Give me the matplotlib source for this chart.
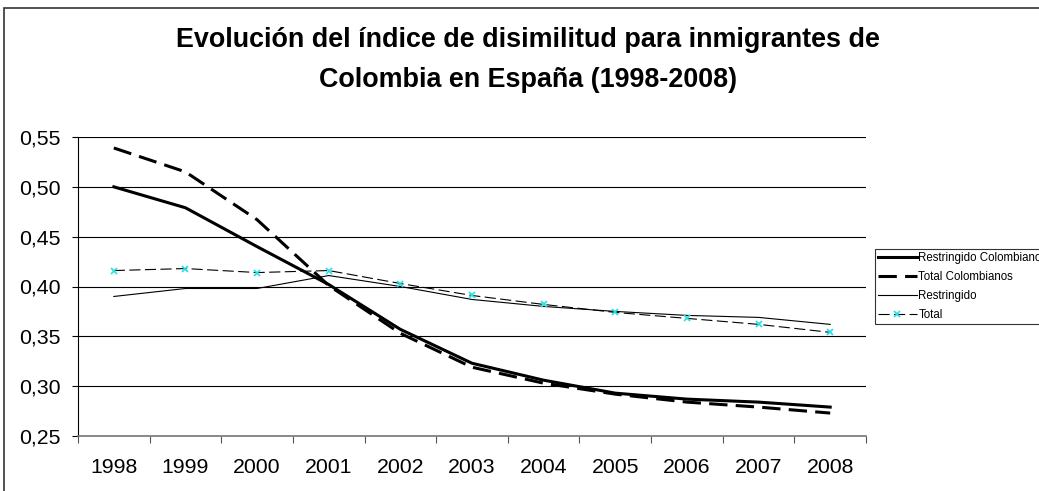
import numpy as np
import matplotlib.pyplot as plt
from matplotlib.patches import Rectangle
from matplotlib.ticker import FuncFormatter

plt.rcParams['font.family'] = ['Liberation Sans', 'DejaVu Sans']

years = ['1998', '1999', '2000', '2001', '2002', '2003', '2004', '2005', '2006', '2007', '2008']
restringido_col = [0.500, 0.479, 0.440, 0.402, 0.357, 0.323, 0.306, 0.293, 0.287, 0.284, 0.279]
total_col = [0.539, 0.515, 0.467, 0.401, 0.353, 0.319, 0.303, 0.292, 0.284, 0.279, 0.273]
restringido = [0.390, 0.398, 0.398, 0.411, 0.400, 0.387, 0.380, 0.375, 0.371, 0.369, 0.362]
total = [0.416, 0.418, 0.414, 0.416, 0.403, 0.391, 0.382, 0.374, 0.368, 0.362, 0.354]

W, H = 1039, 491
fig = plt.figure(figsize=(W/100, H/100), dpi=100)
ax = fig.add_axes([78/W, 1-436/H, (866-78)/W, (436-137)/H])

x = np.arange(len(years))
ax.plot(x, restringido_col, color='black', lw=2.2, label='Restringido Colombianos')
ax.plot(x, total_col, color='black', lw=2.2, dashes=(6, 2.7), label='Total Colombianos')
ax.plot(x, restringido, color='black', lw=0.8, label='Restringido')
ax.plot(x, total, color='black', lw=0.8, dashes=(10, 4), marker='x', ms=5,
        mec='#22e0e8', mew=1.2, label='Total')

ax.set_xlim(-0.5, 10.5)
ax.set_ylim(0.25, 0.55)
ax.set_yticks(np.arange(0.25, 0.551, 0.05))
ax.yaxis.set_major_formatter(FuncFormatter(lambda v, p: f"{v:.2f}".replace('.', ',')))
ax.grid(axis='y', color='black', lw=0.8)
ax.set_axisbelow(True)

ax.set_xticks(np.arange(-0.5, 11, 1))
ax.set_xticklabels([])
ax.set_xticks(x, minor=True)
ax.set_xticklabels(years, minor=True)
ax.tick_params(axis='x', which='major', direction='out', length=5, width=0.8, color='#555555')
ax.tick_params(axis='x', which='minor', length=0, pad=16, labelsize=15.3)
ax.tick_params(axis='y', direction='out', length=4.3, width=0.8, pad=8, labelsize=15.3)

for s in ['top', 'right']:
    ax.spines[s].set_visible(False)
ax.spines['left'].set_linewidth(0.8)
ax.spines['bottom'].set_color('#777777')
ax.spines['bottom'].set_linewidth(1.2)

fig.text(528/W, 1-47/H, 'Evolución del índice de disimilitud para inmigrantes de',
         ha='center', va='baseline', fontsize=19.4, fontweight='bold')
fig.text(528/W, 1-87/H, 'Colombia en España (1998-2008)',
         ha='center', va='baseline', fontsize=19.4, fontweight='bold')

# legend runs past the right edge, as in the original chart
leg = fig.legend(loc='upper left', bbox_to_anchor=(875/W, 1-249/H), fontsize=8.3,
                 frameon=True, fancybox=False, edgecolor='black', handlelength=3.4,
                 handletextpad=0.1, labelspacing=0.6, borderaxespad=0, borderpad=0.25)
leg.get_frame().set_linewidth(0.8)

fig.patches.append(Rectangle((4/W, -0.1), 2, 1-8/H+0.1, transform=fig.transFigure,
                             fill=False, ec='#333333', lw=1.2))

fig.savefig('out.png', dpi=100)
